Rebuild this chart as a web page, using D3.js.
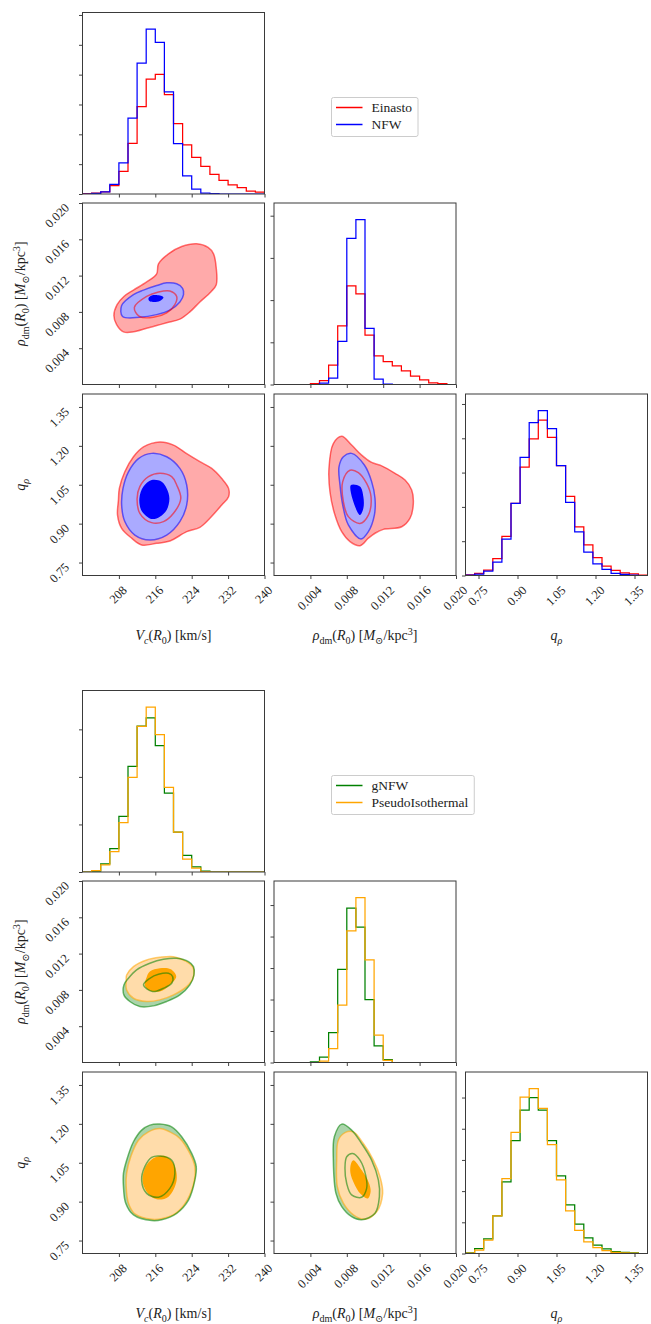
<!DOCTYPE html>
<html>
<head>
<meta charset="utf-8">
<script src="https://cdn.jsdelivr.net/npm/d3@7"></script>
<style>
  body { margin: 0; background: #fff; }
  svg text { font-family: 'Liberation Serif', 'DejaVu Serif', serif; fill: #222; }
</style>
</head>
<body>
<script>
'use strict';

// ---------- parameter ranges and ticks ----------
const vcRange = [200, 240];
const rhoRange = [0, 0.02];
const qRange = [0.70, 1.40];
const nBins = 20;
const vcTicks = [208, 216, 224, 232, 240];
const rhoTicks = [0.004, 0.008, 0.012, 0.016, 0.020];
const qTicks = [0.75, 0.90, 1.05, 1.20, 1.35];

// ---------- 1D histograms (heights in units of the hidden y ticks) ----------
const vcHistEinasto = [0.01, 0.03, 0.07, 0.28, 0.76, 1.70, 2.93, 3.85, 4.01, 3.33, 2.36, 1.65, 1.23, 0.93, 0.66, 0.46, 0.31, 0.21, 0.10, 0.06];
const vcHistNFW = [0, 0.02, 0.07, 0.32, 1.04, 2.54, 4.39, 5.53, 5.08, 3.42, 1.69, 0.61, 0.16, 0.03, 0.01, 0, 0, 0, 0, 0];
const rhoHistEinasto = [0, 0, 0, 0, 0.02, 0.09, 0.46, 1.39, 2.34, 2.15, 1.17, 0.68, 0.54, 0.44, 0.32, 0.20, 0.11, 0.04, 0.02, 0];
const rhoHistNFW = [0, 0, 0, 0, 0, 0.03, 0.15, 1.02, 3.46, 3.91, 1.33, 0.13, 0.01, 0, 0, 0, 0, 0, 0, 0];
const qHistEinasto = [0.02, 0.06, 0.16, 0.49, 1.14, 2.10, 3.16, 3.98, 4.53, 4.03, 3.20, 2.31, 1.42, 0.89, 0.52, 0.27, 0.15, 0.08, 0.05, 0.01];
const qHistNFW = [0.01, 0.04, 0.13, 0.39, 1.06, 2.10, 3.44, 4.46, 4.81, 4.28, 3.20, 2.13, 1.27, 0.68, 0.34, 0.18, 0.06, 0.03, 0.01, 0];

const vcHistGNFW = [0, 0.02, 0.17, 0.49, 1.17, 2.22, 3.07, 3.24, 2.66, 1.66, 0.84, 0.35, 0.11, 0.02, 0, 0, 0, 0, 0, 0];
const vcHistPIso = [0, 0.03, 0.15, 0.43, 1.04, 1.99, 3.06, 3.47, 2.89, 1.78, 0.84, 0.27, 0.08, 0.01, 0, 0, 0, 0, 0, 0];
const rhoHistGNFW = [0, 0, 0, 0, 0.02, 0.17, 0.95, 2.96, 4.90, 4.30, 2.00, 0.53, 0.09, 0, 0, 0, 0, 0, 0, 0];
const rhoHistPIso = [0, 0, 0, 0, 0, 0.04, 0.44, 1.82, 4.18, 5.24, 3.26, 0.87, 0.07, 0, 0, 0, 0, 0, 0, 0];
const qHistGNFW = [0.02, 0.16, 0.47, 1.21, 2.30, 3.62, 4.60, 5.00, 4.60, 3.62, 2.49, 1.56, 0.94, 0.50, 0.27, 0.15, 0.06, 0.04, 0.02, 0];
const qHistPIso = [0.01, 0.11, 0.43, 1.21, 2.40, 3.88, 5.01, 5.29, 4.65, 3.49, 2.36, 1.37, 0.74, 0.37, 0.19, 0.09, 0.04, 0.02, 0.01, 0];

// ---------- 2D credible contours (outer / inner), [x, y] in data units ----------
const einastoVcRhoOuter = [[206.9,0.0076],[207.6,0.0088],[209.1,0.0097],[211.2,0.0104],[214.1,0.0113],[216.3,0.0122],[216.7,0.0133],[218.9,0.0144],[221.8,0.0152],[225.1,0.0155],[227.6,0.0151],[228.8,0.0144],[229.4,0.0128],[229.4,0.0110],[228.2,0.0102],[225.8,0.0091],[223.6,0.0080],[221.4,0.0072],[218.5,0.0068],[216.3,0.0065],[214.1,0.0062],[211.2,0.0058],[209.0,0.0058],[207.5,0.0066]];
const einastoVcRhoInner = [[211.4,0.0085],[212.5,0.0075],[215.6,0.0074],[218.5,0.0079],[220.3,0.0088],[220.7,0.0097],[219.2,0.0103],[216.7,0.0102],[214.1,0.0097]];
const nfwVcRhoOuter = [[208.6,0.0087],[208.8,0.0075],[212.6,0.0074],[216.3,0.0077],[219.2,0.0082],[221.4,0.0091],[222.2,0.0099],[222.0,0.0106],[220.7,0.0111],[218.5,0.0112],[216.3,0.0109],[213.4,0.0104],[211.2,0.0099]];
const nfwVcRhoInner = [[214.5,0.0095],[215.2,0.0098],[217.0,0.0098],[217.8,0.0096],[217.0,0.0092],[215.5,0.0091],[214.7,0.0092]];

const einastoVcQOuter = [[207.9,0.991],[207.7,0.933],[208.6,0.882],[210.8,0.844],[213.0,0.818],[216.3,0.824],[219.2,0.833],[222.9,0.869],[225.8,0.886],[228.0,0.921],[230.6,0.972],[232.1,1.004],[232.1,1.036],[230.6,1.074],[228.4,1.113],[225.8,1.139],[222.9,1.170],[220.0,1.203],[217.0,1.215],[213.4,1.196],[211.2,1.158],[209.3,1.100],[208.1,1.036]];
const einastoVcQInner = [[212.0,0.997],[212.6,0.940],[215.2,0.904],[217.8,0.908],[220.0,0.940],[221.6,0.997],[220.7,1.049],[219.6,1.081],[217.0,1.094],[214.5,1.081],[212.6,1.043]];
const nfwVcQOuter = [[208.6,0.972],[209.3,0.908],[211.5,0.856],[214.8,0.837],[218.5,0.856],[221.4,0.908],[222.9,0.972],[222.9,1.049],[221.4,1.113],[218.5,1.158],[215.2,1.171],[212.3,1.151],[210.1,1.100],[208.9,1.036]];
const nfwVcQInner = [[212.5,0.997],[213.0,0.949],[215.2,0.918],[217.0,0.927],[218.5,0.953],[219.1,0.997],[218.5,1.036],[217.4,1.062],[215.2,1.068],[213.4,1.043]];

const einastoRhoQOuter = [[0.00652,1.209],[0.00744,1.237],[0.00853,1.203],[0.00963,1.164],[0.01073,1.136],[0.01183,1.123],[0.01330,1.094],[0.01440,1.068],[0.01513,1.030],[0.01531,0.978],[0.01495,0.921],[0.01403,0.888],[0.01201,0.878],[0.01110,0.863],[0.01037,0.844],[0.00945,0.815],[0.00835,0.831],[0.00744,0.869],[0.00670,0.933],[0.00615,1.023],[0.00604,1.113]];
const einastoRhoQInner = [[0.00755,1.062],[0.00762,0.985],[0.00817,0.927],[0.00945,0.901],[0.01037,0.933],[0.01066,1.004],[0.01018,1.055],[0.00927,1.097],[0.00835,1.106]];
const nfwRhoQOuter = [[0.00714,1.119],[0.00725,1.049],[0.00755,0.972],[0.00817,0.895],[0.00956,0.841],[0.01037,0.869],[0.01103,0.933],[0.01110,0.997],[0.01073,1.062],[0.00993,1.126],[0.00853,1.171],[0.00762,1.158]];
const nfwRhoQInner = [[0.00846,1.049],[0.00861,0.997],[0.00945,0.933],[0.00982,0.959],[0.00982,1.004],[0.00945,1.043]];

const gnfwVcRhoOuter = [[209.1,0.00855],[209.1,0.00745],[210.4,0.00672],[212.6,0.00617],[215.6,0.00624],[218.5,0.00672],[221.4,0.00745],[223.6,0.00855],[224.5,0.00965],[224.4,0.01056],[223.3,0.01111],[220.7,0.01148],[217.8,0.01137],[214.8,0.01093],[211.9,0.01020],[210.1,0.00928]];
const gnfwVcRhoInner = [[213.4,0.00855],[215.4,0.00782],[217.8,0.00818],[219.6,0.00873],[219.8,0.00947],[218.9,0.00983],[216.7,0.00972],[214.8,0.00928]];
const pisoVcRhoOuter = [[209.6,0.0091],[209.7,0.0080],[211.2,0.00708],[214.1,0.00672],[217.0,0.0069],[220.0,0.00745],[222.9,0.00836],[224.4,0.00946],[224.2,0.01056],[222.9,0.01111],[220.0,0.01166],[217.0,0.01159],[214.1,0.0113],[211.2,0.01057],[209.7,0.00965]];
const pisoVcRhoInner = [[213.7,0.00855],[214.5,0.0080],[217.0,0.00782],[219.2,0.00855],[220.6,0.00947],[219.4,0.01027],[217.0,0.01038],[214.8,0.01002],[214.1,0.0094]];

const gnfwVcQOuter = [[209.0,0.958],[209.5,0.894],[211.2,0.849],[215.2,0.827],[217.4,0.830],[220.7,0.855],[223.3,0.906],[224.7,0.983],[225.0,1.035],[224.0,1.086],[221.8,1.150],[219.6,1.188],[217.0,1.199],[214.8,1.195],[213.0,1.176],[211.2,1.131],[209.7,1.060],[209.0,1.009]];
const gnfwVcQInner = [[213.0,0.983],[214.1,0.932],[216.7,0.917],[219.2,0.951],[220.3,1.009],[219.6,1.060],[217.0,1.076],[215.2,1.071],[213.7,1.035]];
const pisoVcQOuter = [[209.6,0.958],[210.1,0.894],[211.5,0.853],[215.2,0.832],[217.8,0.836],[220.7,0.858],[223.0,0.906],[224.6,0.983],[224.7,1.035],[223.6,1.086],[221.4,1.144],[219.2,1.169],[217.0,1.182],[214.5,1.169],[212.3,1.137],[210.6,1.073],[209.7,1.009]];
const pisoVcQInner = [[213.2,0.983],[214.1,0.938],[216.3,0.909],[218.9,0.919],[220.7,0.983],[220.0,1.047],[218.1,1.076],[216.0,1.071],[214.1,1.041]];

const gnfwRhoQOuter = [[0.00652,1.060],[0.00663,1.150],[0.00744,1.199],[0.00853,1.176],[0.00963,1.124],[0.01073,1.060],[0.01147,0.983],[0.01158,0.919],[0.01110,0.855],[0.00963,0.830],[0.00853,0.842],[0.00744,0.881],[0.00681,0.932]];
const gnfwRhoQInner = [[0.00780,1.028],[0.00799,1.073],[0.00864,1.086],[0.00945,1.060],[0.01011,0.996],[0.01018,0.951],[0.00963,0.917],[0.00853,0.926],[0.00799,0.970]];
const pisoRhoQOuter = [[0.00689,1.060],[0.00707,1.137],[0.00780,1.166],[0.00872,1.169],[0.00982,1.124],[0.01092,1.060],[0.01165,0.996],[0.01194,0.932],[0.01128,0.861],[0.01000,0.832],[0.00872,0.849],[0.00762,0.894],[0.00696,0.958]];
const pisoRhoQInner = [[0.00872,1.060],[0.00963,1.022],[0.01040,0.975],[0.01062,0.940],[0.01030,0.912],[0.00950,0.930],[0.00880,0.970],[0.00840,1.010],[0.00845,1.045]];

const modelNamesTop = ['Einasto', 'NFW'];
const modelNamesBottom = ['gNFW', 'PseudoIsothermal'];

(function() {

  let svg = null;

  const fontFamily = "'Liberation Serif', 'DejaVu Serif', serif";
  const colX = [82.5, 274, 465.5];
  const rowY = [12.5, 203, 394];
  const panelW = 182, panelH = 181.5;
  const cornerShift = 678;

  // math-ish axis labels
  const vcLabel = [{t: 'V', it: 1}, {t: 'c', it: 1, sub: 1}, {t: '('}, {t: 'R', it: 1}, {t: '0', sub: 1}, {t: ') [km/s]'}];
  const rhoLabel = [{t: 'ρ', it: 1}, {t: 'dm', sub: 1}, {t: '('}, {t: 'R', it: 1}, {t: '0', sub: 1}, {t: ') ['},
    {t: 'M', it: 1}, {t: '⊙', sub: 1}, {t: '/kpc'}, {t: '3', sup: 1}, {t: ']'}];
  const qLabel = [{t: 'q', it: 1}, {t: 'ρ', it: 1, sub: 1}];

  const params = [
    {key: 'vc', range: vcRange, ticks: vcTicks, fmt: d3.format('d'), label: vcLabel},
    {key: 'rho', range: rhoRange, ticks: rhoTicks, fmt: d3.format('.3f'), label: rhoLabel},
    {key: 'q', range: qRange, ticks: qTicks, fmt: d3.format('.2f'), label: qLabel}
  ];

  window.onload = function() {
    svg = d3.select('body').append('svg')
      .attr('width', 651)
      .attr('height', 1324)
      .style('font-family', fontFamily);

    drawCorner({
      shift: 0,
      names: modelNamesTop,
      colors: ['#ff0000', '#0000ff'],
      lights: ['#ffaaaa', '#aaaaff'],
      hists: {vc: [vcHistEinasto, vcHistNFW], rho: [rhoHistEinasto, rhoHistNFW], q: [qHistEinasto, qHistNFW]},
      contours: {
        'vc-rho': [einastoVcRhoOuter, einastoVcRhoInner, nfwVcRhoOuter, nfwVcRhoInner],
        'vc-q': [einastoVcQOuter, einastoVcQInner, nfwVcQOuter, nfwVcQInner],
        'rho-q': [einastoRhoQOuter, einastoRhoQInner, nfwRhoQOuter, nfwRhoQInner]
      }
    });

    drawCorner({
      shift: cornerShift,
      names: modelNamesBottom,
      colors: ['#008000', '#ffa500'],
      lights: ['#aad4aa', '#ffdcaa'],
      hists: {vc: [vcHistGNFW, vcHistPIso], rho: [rhoHistGNFW, rhoHistPIso], q: [qHistGNFW, qHistPIso]},
      contours: {
        'vc-rho': [gnfwVcRhoOuter, gnfwVcRhoInner, pisoVcRhoOuter, pisoVcRhoInner],
        'vc-q': [gnfwVcQOuter, gnfwVcQInner, pisoVcQOuter, pisoVcQInner],
        'rho-q': [gnfwRhoQOuter, gnfwRhoQInner, pisoRhoQOuter, pisoRhoQInner]
      }
    });
  };

  // write a label made of plain / italic / sub / sup pieces
  function addMath(text, parts) {
    let shift = 0;
    parts.forEach(function(p) {
      let ts = text.append('tspan').text(p.t);
      let target = p.sub ? 3.5 : (p.sup ? -5.5 : 0);
      if (target !== shift) {
        ts.attr('dy', target - shift);
        shift = target;
      }
      if (p.it) ts.style('font-style', 'italic');
      if (p.sub || p.sup) ts.style('font-size', '72%');
    });
  }

  function drawCorner(c) {
    let g = svg.append('g');
    let lineGen = d3.line().curve(d3.curveCatmullRomClosed.alpha(0.5));

    for (let i = 0; i < 3; i++) {
      for (let j = 0; j <= i; j++) {
        let x0 = colX[j], y0 = rowY[i] + c.shift;
        let px = params[j], py = params[i];
        let x = d3.scaleLinear().domain(px.range).range([x0, x0 + panelW]);
        let panel = g.append('g');
        let clipId = 'clip-' + c.shift + '-' + i + '-' + j;
        panel.append('clipPath').attr('id', clipId)
          .append('rect')
          .attr('x', x0).attr('y', y0)
          .attr('width', panelW).attr('height', panelH);
        let body = panel.append('g').attr('clip-path', 'url(#' + clipId + ')');
        let y;

        if (i === j) {
          // 1D histogram, step outline
          let pair = c.hists[px.key];
          let ymax = 1.1 * d3.max(pair.map(function(h) { return d3.max(h); }));
          y = d3.scaleLinear().domain([0, ymax]).range([y0 + panelH, y0]);
          let edges = d3.range(nBins + 1).map(function(k) {
            return px.range[0] + (px.range[1] - px.range[0]) * k / nBins;
          });
          pair.forEach(function(h, s) {
            let pts = [[edges[0], 0]];
            h.forEach(function(v, k) {
              pts.push([edges[k], v]);
              pts.push([edges[k + 1], v]);
            });
            pts.push([edges[nBins], 0]);
            body.append('path')
              .attr('d', d3.line().x(function(d) { return x(d[0]); }).y(function(d) { return y(d[1]); })(pts))
              .attr('fill', 'none')
              .attr('stroke', c.colors[s])
              .attr('stroke-width', 1.25);
          });
          panel.append('g')
            .attr('transform', 'translate(' + x0 + ',0)')
            .call(d3.axisLeft(y).tickValues(d3.range(0, Math.floor(ymax) + 1)).tickSize(3.5).tickSizeOuter(0).tickFormat(''))
            .call(styleAxis);
        } else {
          y = d3.scaleLinear().domain(py.range).range([y0 + panelH, y0]);
          let key = px.key + '-' + py.key;
          let cs = c.contours[key];
          let path = lineGen.x(function(d) { return x(d[0]); }).y(function(d) { return y(d[1]); });

          // outer regions
          body.append('path').attr('d', path(cs[0])).attr('fill', c.lights[0]);
          body.append('path').attr('d', path(cs[2])).attr('fill', c.lights[1]);
          body.append('path').attr('d', path(cs[2])).attr('fill', 'none')
            .attr('stroke', c.colors[1]).attr('stroke-opacity', 0.55).attr('stroke-width', 1.5);
          // inner region of second model, solid
          body.append('path').attr('d', path(cs[3])).attr('fill', c.colors[1]);
          // first model outlines
          [cs[0], cs[1]].forEach(function(poly) {
            body.append('path').attr('d', path(poly)).attr('fill', 'none')
              .attr('stroke', c.colors[0]).attr('stroke-opacity', 0.55).attr('stroke-width', 1.5);
          });

          panel.append('g')
            .attr('transform', 'translate(' + x0 + ',0)')
            .call(d3.axisLeft(y).tickValues(py.ticks).tickSize(3.5).tickSizeOuter(0).tickFormat(''))
            .call(styleAxis);

          // y tick labels on the first column
          if (j === 0) {
            panel.selectAll('.ylab')
              .data(py.ticks)
              .enter()
              .append('text')
              .attr('transform', function(d) { return 'translate(' + (x0 - 12.5) + ',' + (y(d) + 5.5) + ')rotate(-45)'; })
              .style('font-family', fontFamily)
              .style('font-size', '12.5px')
              .style('text-anchor', 'end')
              .text(py.fmt);
            let ylab = panel.append('text')
              .attr('transform', 'translate(25,' + (y0 + panelH / 2) + ')rotate(-90)')
              .style('font-family', fontFamily)
              .style('font-size', '14px')
              .style('text-anchor', 'middle');
            addMath(ylab, py.label);
          }
        }

        // bottom ticks on every panel
        panel.append('g')
          .attr('transform', 'translate(0,' + (y0 + panelH) + ')')
          .call(d3.axisBottom(x).tickValues(px.ticks).tickSize(3.5).tickSizeOuter(0).tickFormat(''))
          .call(styleAxis);

        // frame
        panel.append('rect')
          .attr('x', x0).attr('y', y0)
          .attr('width', panelW).attr('height', panelH)
          .attr('fill', 'none')
          .attr('stroke', '#3a3a3a')
          .attr('stroke-width', 1);

        // x tick labels and axis title for the bottom row
        if (i === 2) {
          let labs = panel.selectAll('.xlab')
            .data(px.ticks)
            .enter()
            .append('text')
            .style('font-family', fontFamily)
            .style('font-size', '12.5px')
            .style('text-anchor', 'end')
            .text(px.fmt);
          labs.attr('transform', function(d) {
            let w = this.getComputedTextLength();
            return 'translate(' + (x(d) + 0.354 * (w + 6)) + ',' + (y0 + panelH + 15.5) + ')rotate(-45)';
          });
          let xlab = panel.append('text')
            .attr('x', x0 + panelW / 2)
            .attr('y', 640 + c.shift)
            .style('font-family', fontFamily)
            .style('font-size', '14px')
            .style('text-anchor', 'middle');
          addMath(xlab, px.label);
        }
      }
    }

    makeLegend(g, c);
  }

  function styleAxis(sel) {
    sel.select('.domain').remove();
    sel.selectAll('.tick line').attr('stroke', '#111').attr('stroke-width', 0.8);
  }

  function makeLegend(g, c) {
    let lx = 331.5, ly = 97.5 + c.shift;
    let box = g.append('rect')
      .attr('x', lx).attr('y', ly)
      .attr('rx', 2).attr('ry', 2)
      .attr('height', 39)
      .attr('fill', 'white')
      .attr('fill-opacity', 0.85)
      .attr('stroke', '#cccccc')
      .attr('stroke-width', 1);
    let maxW = 0;
    c.names.forEach(function(name, k) {
      let yy = ly + 10 + k * 17;
      g.append('line')
        .attr('x1', lx + 4.5).attr('x2', lx + 31)
        .attr('y1', yy).attr('y2', yy)
        .attr('stroke', c.colors[k])
        .attr('stroke-width', 1.5);
      let t = g.append('text')
        .attr('x', lx + 40)
        .attr('y', yy + 4.5)
        .style('font-family', fontFamily)
        .style('font-size', '13.5px')
        .text(name);
      maxW = Math.max(maxW, t.node().getComputedTextLength());
    });
    box.attr('width', 40 + maxW + 6);
  }

})();
</script>
</body>
</html>
